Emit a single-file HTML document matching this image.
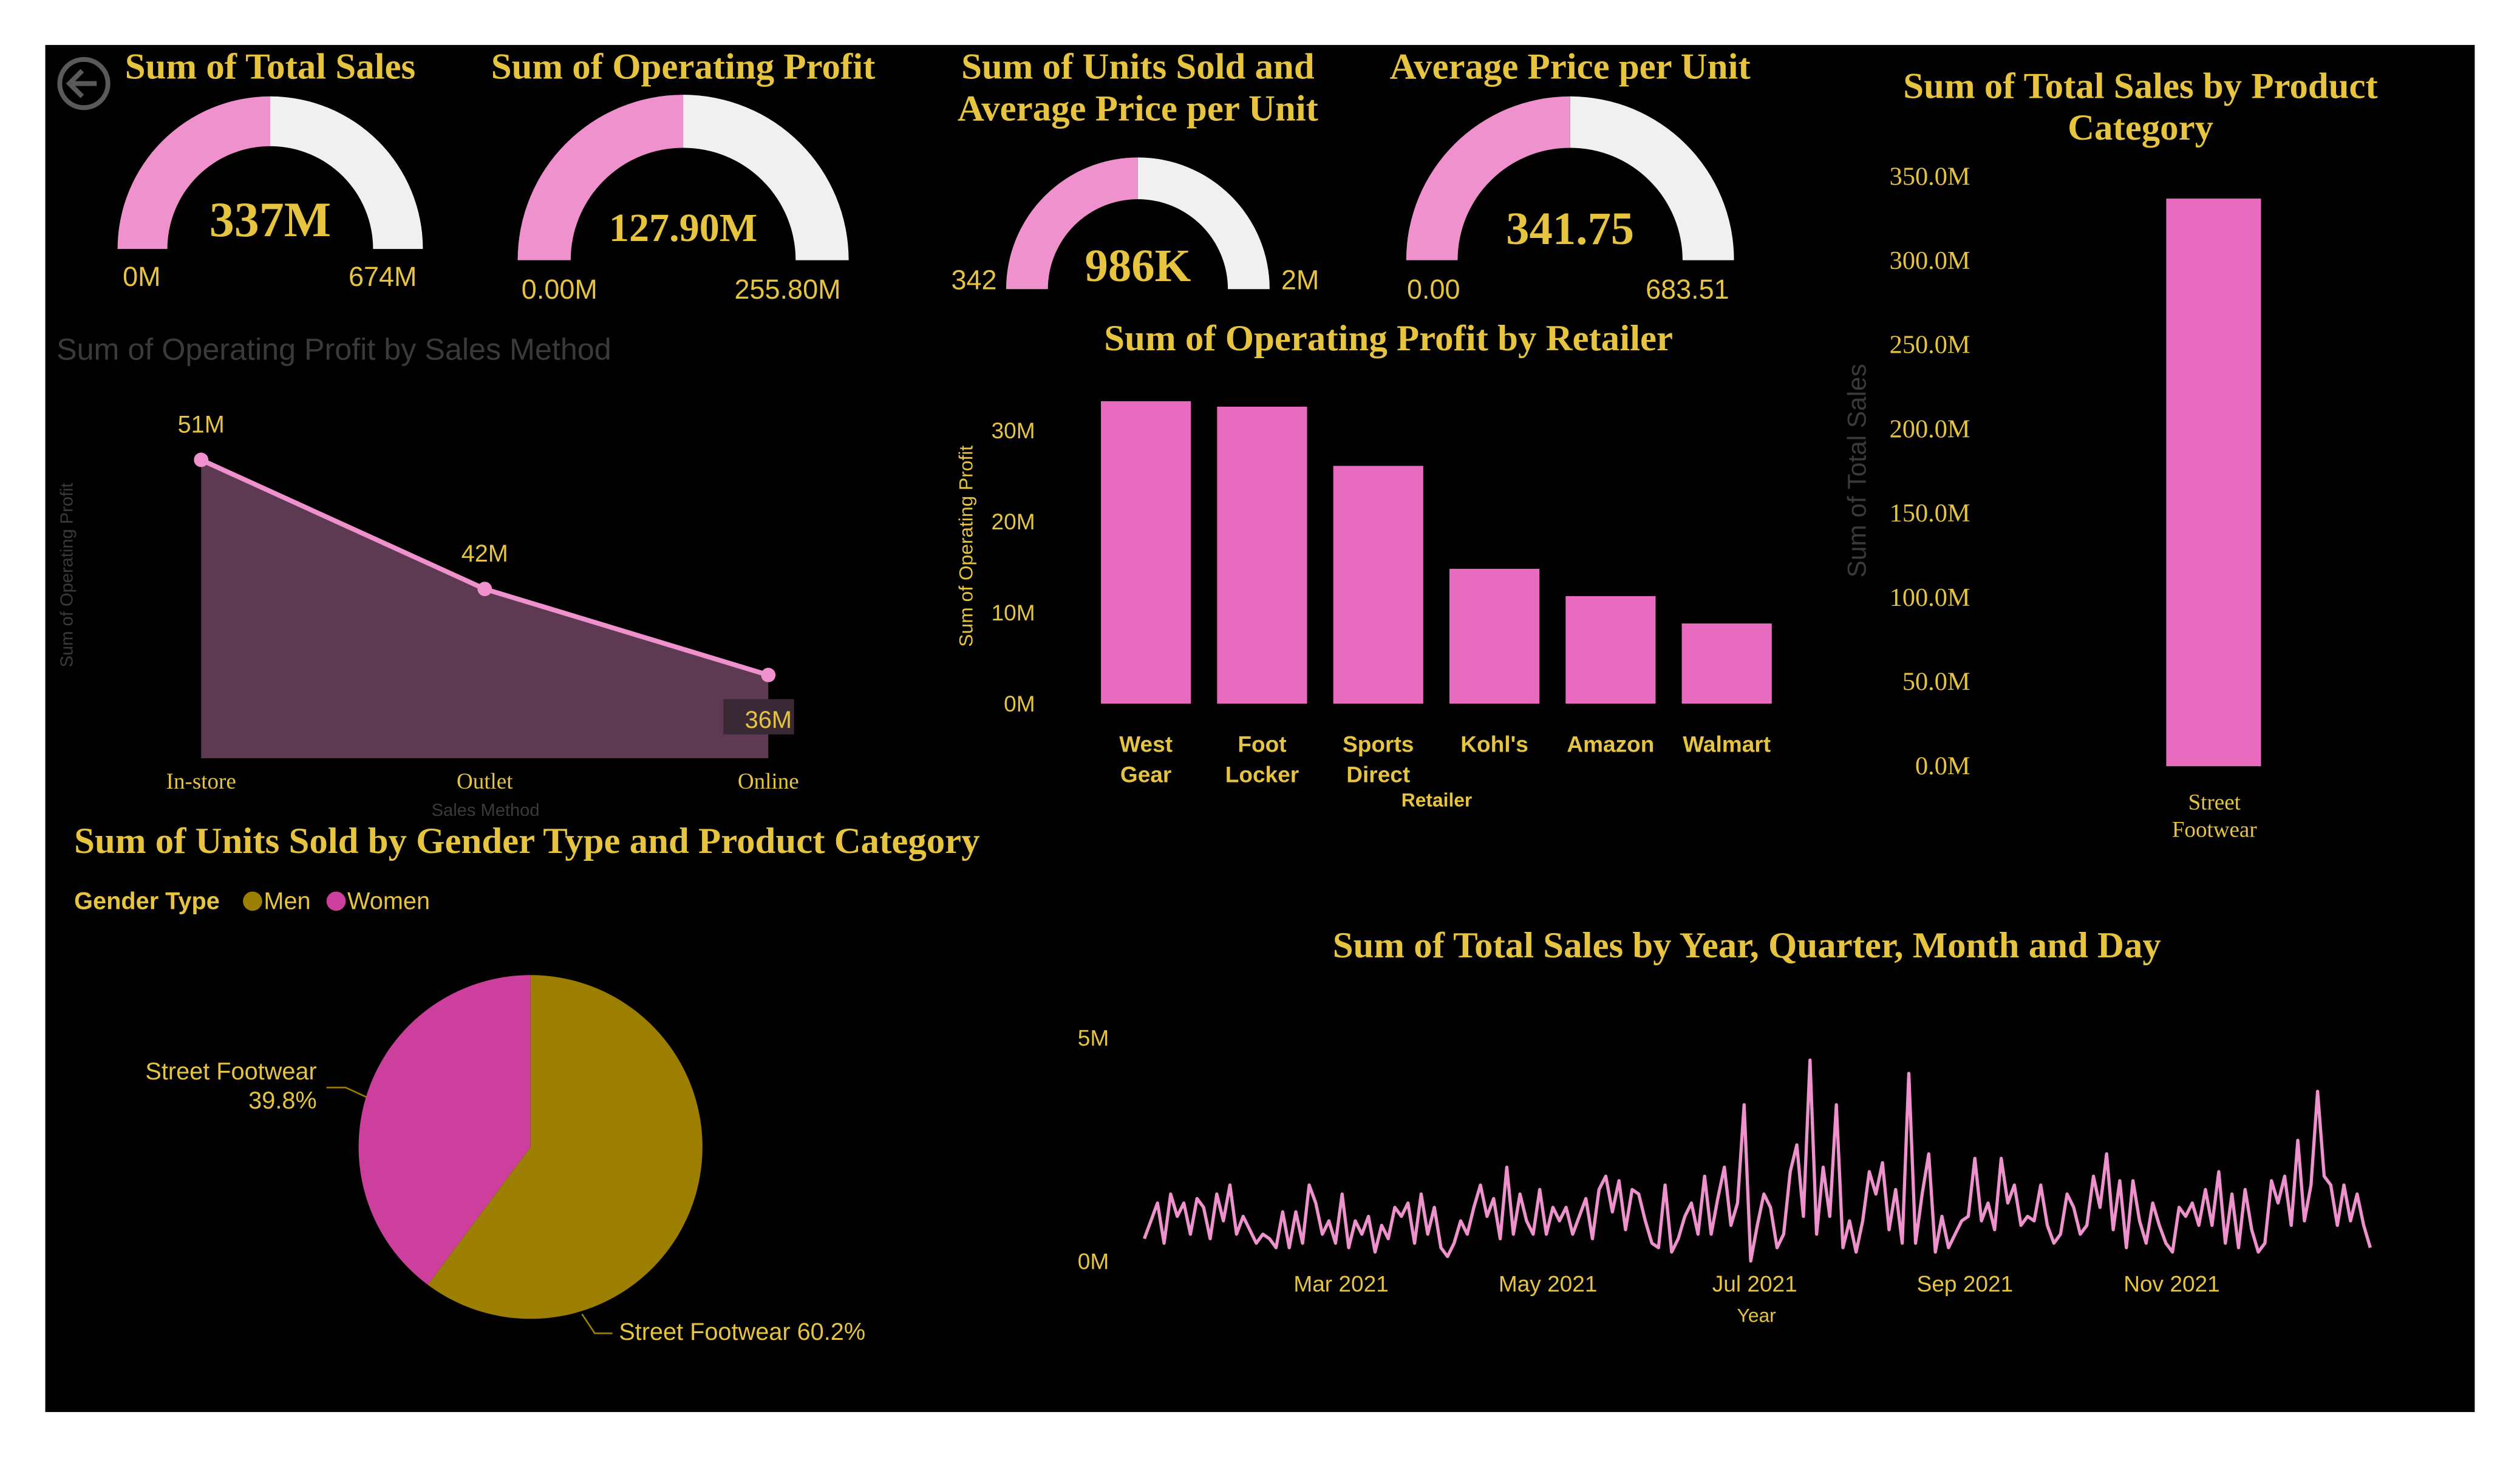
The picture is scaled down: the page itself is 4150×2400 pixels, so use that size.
<!DOCTYPE html>
<html><head><meta charset="utf-8">
<style>
html,body{margin:0;padding:0;background:#fff;}
svg{display:block;}
.t{font-family:"Liberation Serif",serif;font-weight:bold;fill:#E6C440;}
.s{font-family:"Liberation Sans",sans-serif;fill:#E6C440;}
</style></head>
<body>
<svg id="dash" width="4150" height="2400" viewBox="0 0 1568 907" xmlns="http://www.w3.org/2000/svg">
<rect x="0" y="0" width="1568" height="907" fill="#fff"/>
<rect x="28" y="28" width="1512" height="851" fill="#000"/>
<g><circle cx="52" cy="52" r="15" fill="none" stroke="#5a5a5a" stroke-width="3"/><path d="M60 52 H44 M51 44 L43 52 L51 60" fill="none" stroke="#5a5a5a" stroke-width="3"/></g>
<g id="gauges"></g>
<g id="area"></g>
<g id="retail"></g>
<g id="cat"></g>
<g id="pie"></g>
<g id="ts"></g>
</svg>
<script>
const NS="http://www.w3.org/2000/svg";
function mk(p,tag,a,txt){const e=document.createElementNS(NS,tag);for(const k in a)e.setAttribute(k,a[k]);if(txt!==undefined)e.textContent=txt;p.appendChild(e);return e;}

// ---- gauge data ----
const gaugeTitles=[["Sum of Total Sales"],["Sum of Operating Profit"],["Sum of Units Sold and","Average Price per Unit"],["Average Price per Unit"]];
const gaugeValues=[337,127.9,986,341.75];
const gaugeMins=[0,0,0,0];
const gaugeMaxs=[674,255.8,1972,683.51];
const gaugeValueLabels=["337M","127.90M","986K","341.75"];
const gaugeMinLabels=["0M","0.00M","342","0.00"];
const gaugeMaxLabels=["674M","255.80M","2M","683.51"];
const gaugeGeom=[{cx:168,cy:155,r:95,ri:64,ty:[49],vy:147,vs:31,ly:178,mnx:88,mxx:238},{cx:425,cy:162,r:103,ri:70,ty:[49],vy:150,vs:25,ly:186,mnx:348,mxx:490},{cx:708,cy:180,r:82,ri:56,ty:[49,75],vy:175,vs:29,ly:180,mnx:606,mxx:809},{cx:977,cy:162,r:102,ri:70,ty:[49],vy:152,vs:29,ly:186,mnx:892,mxx:1050}];
const G=document.getElementById('gauges');
function arc(cx,cy,r,ri,a0,a1){const p=(rr,a)=>[cx+rr*Math.cos(a),cy-rr*Math.sin(a)];const [x0,y0]=p(r,a0),[x1,y1]=p(r,a1),[x2,y2]=p(ri,a1),[x3,y3]=p(ri,a0);return `M${x0} ${y0} A${r} ${r} 0 0 1 ${x1} ${y1} L${x2} ${y2} A${ri} ${ri} 0 0 0 ${x3} ${y3} Z`;}
gaugeValues.forEach((v,i)=>{
  const g=gaugeGeom[i];
  const gg=mk(G,'g',{});
  
  
  gaugeTitles[i].forEach((t,j)=>{const e=mk(gg,'text',{x:g.cx,y:g.ty[j],'text-anchor':'middle','font-size':23,class:'t'},t);});
  const frac=(v-gaugeMins[i])/(gaugeMaxs[i]-gaugeMins[i]);
  const am=Math.PI*(1-frac);
  const bg=mk(gg,'path',{d:arc(g.cx,g.cy,g.r,g.ri,am,0),fill:'#F0F0F0'});
  
  const fg=mk(gg,'path',{d:arc(g.cx,g.cy,g.r,g.ri,Math.PI,am),fill:'#EE91CC'});
  
  const vt=mk(gg,'text',{x:g.cx,y:g.vy,'text-anchor':'middle','font-size':g.vs,class:'t'},gaugeValueLabels[i]);
  
  const mn=mk(gg,'text',{x:g.mnx,y:g.ly,'text-anchor':'middle','font-size':17,class:'s'},gaugeMinLabels[i]);
  
  const mx=mk(gg,'text',{x:g.mxx,y:g.ly,'text-anchor':'middle','font-size':17,class:'s'},gaugeMaxLabels[i]);
  
});

// ---- area chart ----
const methodCats=["In-store","Outlet","Online"];
const methodVals=[51,42,36];
const methodLabels=["51M","42M","36M"];
(function(){
  const A=document.getElementById('area');
  const xs=i=>125+i*176.5, ys=v=>472-(v-30.2)*8.93;
  let t=mk(A,'text',{x:35,y:224,'font-size':19,fill:'#3a3a3a','font-family':'Liberation Sans,sans-serif'},'Sum of Operating Profit by Sales Method');
  
  t=mk(A,'text',{x:45,y:358,'font-size':11,fill:'#3a3a3a','font-family':'Liberation Sans,sans-serif','text-anchor':'middle',transform:'rotate(-90 45 358)'},'Sum of Operating Profit');
  
  let d=`M${xs(0)} 472 `+methodVals.map((v,i)=>`L${xs(i)} ${ys(v)}`).join(' ')+` L${xs(2)} 472 Z`;
  const ar=mk(A,'path',{d,fill:'#5E3A52'});
  const ln=mk(A,'polyline',{points:methodVals.map((v,i)=>xs(i)+','+ys(v)).join(' '),fill:'none',stroke:'#EE91CC','stroke-width':3});
  
  methodVals.forEach((v,i)=>{
    const c=mk(A,'circle',{cx:xs(i),cy:ys(v),r:4.5,fill:'#EE91CC'});
    if(i==2){const b=mk(A,'rect',{x:xs(i)-28,y:ys(v)+15,width:44,height:22,fill:'#3a2a35'});}
    const l=mk(A,'text',{x:xs(i),y:i==2?ys(v)+33:ys(v)-17,'text-anchor':'middle','font-size':15,class:'s'},methodLabels[i]);
    
    const x=mk(A,'text',{x:xs(i),y:491,'text-anchor':'middle','font-size':14,fill:'#E6C440','font-family':'Liberation Serif,serif'},methodCats[i]);
    
  });
  t=mk(A,'text',{x:302,y:508,'text-anchor':'middle','font-size':11,fill:'#3a3a3a','font-family':'Liberation Sans,sans-serif'},'Sales Method');
  
})();

// ---- retailer bars ----
const retailers=[["West","Gear"],["Foot","Locker"],["Sports","Direct"],["Kohl's"],["Amazon"],["Walmart"]];
const retailerVals=[33.2,32.6,26.1,14.8,11.8,8.8];
const retailTicks=[0,10,20,30];
const retailTickLabels=["0M","10M","20M","30M"];
(function(){
  const R=document.getElementById('retail');
  const ys=v=>438-v*5.67, xs=i=>685+i*72.3;
  let t=mk(R,'text',{x:864,y:218,'text-anchor':'middle','font-size':23,class:'t'},'Sum of Operating Profit by Retailer');
  
  t=mk(R,'text',{x:605,y:340,'text-anchor':'middle','font-size':12,class:'s',transform:'rotate(-90 605 340)'},'Sum of Operating Profit');
  
  retailTicks.forEach((v,i)=>{const e=mk(R,'text',{x:644,y:ys(v)+5,'text-anchor':'end','font-size':14,class:'s'},retailTickLabels[i]);});
  retailerVals.forEach((v,i)=>{
    const b=mk(R,'rect',{x:xs(i),y:ys(v),width:56,height:v*5.67,fill:'#E86BBF'});
    
    retailers[i].forEach((w,j)=>{const e=mk(R,'text',{x:xs(i)+28,y:468+j*19,'text-anchor':'middle','font-size':14,'font-weight':'bold',class:'s'},w);});
  });
  t=mk(R,'text',{x:894,y:502,'text-anchor':'middle','font-size':12,'font-weight':'bold',class:'s'},'Retailer');
  
})();

// ---- category bar ----
const catNames=[["Street","Footwear"]];
const catVals=[337];
const catTicks=[0,50,100,150,200,250,300,350];
const catTickLabels=["0.0M","50.0M","100.0M","150.0M","200.0M","250.0M","300.0M","350.0M"];
(function(){
  const C=document.getElementById('cat');
  const ys=v=>477-v*1.0486;
  ["Sum of Total Sales by Product","Category"].forEach((s,j)=>{const e=mk(C,'text',{x:1332,y:61+j*26,'text-anchor':'middle','font-size':23,class:'t'},s);});
  let t=mk(C,'text',{x:1161,y:293,'text-anchor':'middle','font-size':16,fill:'#3a3a3a','font-family':'Liberation Sans,sans-serif',transform:'rotate(-90 1161 293)'},'Sum of Total Sales');
  
  catTicks.forEach((v,i)=>{const e=mk(C,'text',{x:1226,y:ys(v)+5,'text-anchor':'end','font-size':16,fill:'#E6C440','font-family':'Liberation Serif,serif'},catTickLabels[i]);});
  catVals.forEach((v,i)=>{
    const b=mk(C,'rect',{x:1348+i*80,y:ys(v),width:59,height:v*1.0486,fill:'#E86BBF'});
    catNames[i].forEach((w,j)=>{const e=mk(C,'text',{x:1378+i*80,y:504+j*17,'text-anchor':'middle','font-size':14,fill:'#E6C440','font-family':'Liberation Serif,serif'},w);});
  });
})();

// ---- pie ----
const pieGroups=["Men","Women"];
const pieVals=[60.2,39.8];
const pieColors=["#9C7E00","#CC3F9C"];
(function(){
  const P=document.getElementById('pie');
  let t=mk(P,'text',{x:46,y:531,'font-size':23,class:'t'},'Sum of Units Sold by Gender Type and Product Category');
  
  t=mk(P,'text',{x:46,y:566,'font-size':15,'font-weight':'bold',class:'s'},'Gender Type');
  
  const lx=[157,209];
  pieGroups.forEach((g,i)=>{const lg=mk(P,'g',{});
    mk(lg,'circle',{cx:lx[i],cy:561,r:6,fill:pieColors[i]});mk(lg,'text',{x:lx[i]+7,y:566,'font-size':15,class:'s'},g);});
  const cx=330,cy=714,r=107;const tot=pieVals.reduce((a,b)=>a+b,0);
  let a0=-Math.PI/2;
  pieVals.forEach((v,i)=>{
    const a1=a0+v/tot*2*Math.PI;
    const large=(a1-a0)>Math.PI?1:0;
    const d=`M${cx} ${cy} L${cx+r*Math.cos(a0)} ${cy+r*Math.sin(a0)} A${r} ${r} 0 ${large} 1 ${cx+r*Math.cos(a1)} ${cy+r*Math.sin(a1)} Z`;
    const s=mk(P,'path',{d,fill:pieColors[i]});
    a0=a1;
  });
  mk(P,'polyline',{points:'203,677 215,677 228,683',fill:'none',stroke:'#9C7E00','stroke-width':1});
  mk(P,'polyline',{points:'362,818 370,830 381,830',fill:'none',stroke:'#9C7E00','stroke-width':1});
  t=mk(P,'text',{x:197,y:672,'text-anchor':'end','font-size':15,class:'s'},'Street Footwear');
  t=mk(P,'text',{x:197,y:690,'text-anchor':'end','font-size':15,class:'s'},pieVals[1]+'%');
  t=mk(P,'text',{x:385,y:834,'font-size':15,class:'s'},'Street Footwear '+pieVals[0]+'%');
})();

// ---- time series ----
const salesDaily=[
0.5,0.9,1.3,0.4,1.5,1.0,1.3,0.6,1.4,1.2,0.5,1.5,0.9,1.7,0.6,
1.0,0.7,0.4,0.6,0.5,0.3,1.1,0.3,1.1,0.4,1.7,1.3,0.6,0.9,0.4,
1.5,0.3,0.9,0.6,1.0,0.2,0.8,0.5,1.2,1.0,1.3,0.4,1.5,0.6,1.2,0.3,
0.1,0.4,0.9,0.6,1.2,1.7,1.0,1.4,0.5,2.1,0.6,1.5,0.9,0.6,1.6,
0.6,1.2,0.9,1.2,0.6,1.0,1.4,0.5,1.6,1.9,1.1,1.8,0.7,1.6,1.5,0.9,
0.4,0.3,1.7,0.2,0.5,1.0,1.3,0.6,1.9,0.6,1.4,2.1,0.8,1.3,3.5,0.0,
0.8,1.5,1.2,0.3,0.6,2.0,2.6,1.0,4.5,0.6,2.1,1.0,3.5,0.3,0.9,0.2,
0.9,2.0,1.5,2.2,0.7,1.6,0.4,4.2,0.4,1.5,2.4,0.2,1.0,0.3,0.6,
0.9,1.0,2.3,0.9,1.3,0.7,2.3,1.3,1.7,0.8,1.0,0.9,1.7,0.8,0.4,0.6,
1.5,1.2,0.6,0.8,1.9,1.2,2.4,0.7,1.8,0.3,1.8,0.9,0.4,1.3,0.8,0.4,
0.2,1.2,1.0,1.3,0.8,1.6,0.8,2.0,0.4,1.5,0.3,1.6,0.7,0.2,0.4,
1.8,1.3,1.9,0.8,2.7,0.9,1.7,3.8,1.9,1.7,0.8,1.7,0.9,1.5,0.8,0.3];
const tsTicks=[0,5];
const tsTickLabels=["0M","5M"];
const monthLabels=["Mar 2021","May 2021","Jul 2021","Sep 2021","Nov 2021"];
const monthDays=[59,120,181,243,304];
(function(){
  const T=document.getElementById('ts');
  const x0=712,x1=1475;
  const xd=d=>710+d*2.11;
  const xi=i=>x0+i*(x1-x0)/(salesDaily.length-1);
  const ys=v=>785-v*27.8;
  let t=mk(T,'text',{x:1087,y:596,'text-anchor':'middle','font-size':23,class:'t'},'Sum of Total Sales by Year, Quarter, Month and Day');
  
  tsTicks.forEach((v,i)=>{const e=mk(T,'text',{x:690,y:ys(v)+5,'text-anchor':'end','font-size':14,class:'s'},tsTickLabels[i]);});
  monthLabels.forEach((m,i)=>{const e=mk(T,'text',{x:xd(monthDays[i]),y:804,'text-anchor':'middle','font-size':14,class:'s'},m);});
  t=mk(T,'text',{x:1093,y:823,'text-anchor':'middle','font-size':12,class:'s'},'Year');
  
  const l=mk(T,'polyline',{points:salesDaily.map((v,i)=>xi(i).toFixed(1)+','+ys(v).toFixed(1)).join(' '),fill:'none',stroke:'#EE91CC','stroke-width':2,'stroke-linejoin':'round'});
  
})();
</script>
</body></html>
